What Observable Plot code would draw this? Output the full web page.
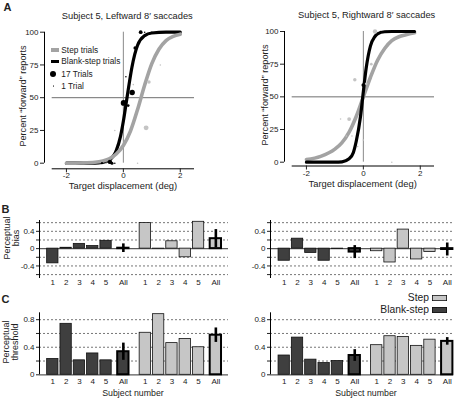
<!DOCTYPE html>
<html><head><meta charset="utf-8">
<script src="https://cdn.jsdelivr.net/npm/d3@7"></script>
<script src="https://cdn.jsdelivr.net/npm/@observablehq/plot@0.6"></script>
<style>
body{margin:0;background:#fff;}
#fig{position:relative;width:454px;height:401px;overflow:hidden;font-family:"Liberation Sans",Arial,sans-serif;color:#222;background:#fff;}
.p{position:absolute;}
.t{position:absolute;white-space:nowrap;line-height:1;}
</style></head><body><div id="fig"></div>
<script>
// ---------- Panel A data ----------
const aXTicks = [-2, 0, 2];
const aXTickLabels = ["-2", "0", "2"];
const aYTicks = [0, 25, 50, 75, 100];
const aYTickLabels = ["0", "25", "50", "75", "100"];

// Leftward: fitted curves
const leftBlankCurveX = [-2, -1, -0.75, -0.5, -0.25, -0.1, 0, 0.1, 0.2, 0.3, 0.4, 0.5, 0.75, 1, 1.5, 2];
const leftBlankCurveY = [0, 0.1, 0.6, 2.4, 9.6, 20.5, 32, 46, 60, 73, 83, 90, 97.4, 99.4, 100, 100];
const leftStepCurveX = [-2, -1.5, -1, -0.5, -0.25, 0, 0.25, 0.5, 0.75, 1, 1.25, 1.5, 1.75, 2];
const leftStepCurveY = [0, 0.2, 0.7, 3.3, 7, 13.5, 24.5, 41, 59.7, 76, 87, 93.6, 96.8, 98.5];
// Leftward: data points (displacement, % forward, trials)
const leftBlankPtX = [0.61, 0.41, 0.09, 0.01, 0.31, 0.17, -0.18, -0.47, -0.4, -0.75, -0.3, 0.75, 1.0, 1.3];
const leftBlankPtY = [100, 88, 66, 46, 54, 44, 14, 1, 0, 0, 0, 100, 100, 100];
const leftBlankPtN = [6, 4, 1, 14, 12, 3, 3, 8, 4, 2, 1, 1, 1, 1];
const leftStepPtX = [0.8, 0.9, -0.3, 1.3, 0.5, 0.35, -0.6];
const leftStepPtY = [27, 62, 25, 75, 0, 60, 0];
const leftStepPtN = [10, 5, 1, 1, 1, 1, 1];

// Rightward
const rightBlankCurveX = [-2, -1, -0.75, -0.5, -0.35, -0.25, -0.1, 0, 0.1, 0.25, 0.4, 0.5, 0.75, 1, 1.8];
const rightBlankCurveY = [0, 0, 0.3, 2.6, 7.5, 16, 35, 54, 72, 89, 96, 98.2, 99.8, 100, 100];
const rightStepCurveX = [-2, -1.5, -1, -0.75, -0.5, -0.25, 0, 0.25, 0.5, 0.75, 1, 1.25, 1.5, 1.8];
const rightStepCurveY = [2, 4.5, 10, 15, 23, 35, 50, 65, 78, 87, 93, 96, 97.5, 99];
const rightBlankPtX = [0, -1.5, -1.35, -1.2, -1.05, -0.9, -0.75, 0.6, 0.8, 1.0, 1.2, 1.5];
const rightBlankPtY = [59, 0, 0, 0, 0, 0, 0, 100, 100, 100, 100, 100];
const rightBlankPtN = [6, 1, 1, 1, 1, 1, 1, 1, 1, 1, 1, 1];
const rightStepPtX = [0.41, -0.3, -0.5, 0.28, 0.1, -0.8, -0.6, -0.4, 0, -0.2, 1.0];
const rightStepPtY = [100, 63, 33, 75, 60, 33, 20, 20, 17, 12, 0];
const rightStepPtN = [8, 5, 6, 3, 3, 1, 1, 1, 1, 1, 1];

// ---------- Panels B & C data ----------
const subjects = ["1", "2", "3", "4", "5", "All"];
const conditions = ["Blank-step", "Step"];
const biasLeftBlank = [-0.34, 0.02, 0.11, 0.06, 0.18, 0.01];
const biasLeftStep = [0.59, -0.01, 0.17, -0.2, 0.62, 0.23];
const biasLeftErr = [0.1, 0.21];
const biasRightBlank = [-0.28, 0.23, -0.10, -0.28, -0.01, -0.08];
const biasRightStep = [-0.06, -0.32, 0.44, -0.25, -0.08, -0.02];
const biasRightErr = [0.15, 0.15];
const threshLeftBlank = [0.23, 0.74, 0.21, 0.31, 0.21, 0.335];
const threshLeftStep = [0.61, 0.88, 0.46, 0.52, 0.40, 0.575];
const threshLeftErr = [0.125, 0.105];
const threshRightBlank = [0.28, 0.54, 0.22, 0.17, 0.20, 0.28];
const threshRightStep = [0.43, 0.56, 0.55, 0.42, 0.51, 0.485];
const threshRightErr = [0.085, 0.055];

const biasTicks = [-0.6, -0.4, -0.2, 0, 0.2, 0.4, 0.6];
const biasTickLabels = ["", "-0.4", "", "0", "", "0.4", ""];
const threshTicks = [0, 0.2, 0.4, 0.6, 0.8];
const threshTickLabels = ["0", "", "0.4", "", "0.8"];

// ---------- helpers ----------
const FONT = "Liberation Sans, Arial, sans-serif";
const fig = document.getElementById("fig");
function place(node, left, top) {
  const d = document.createElement("div");
  d.className = "p"; d.style.left = left + "px"; d.style.top = top + "px";
  d.appendChild(node); fig.appendChild(d); return d;
}
function txt(s, x, y, size, opt = {}) {
  const d = document.createElement("div");
  d.className = "t"; d.textContent = s;
  d.style.fontSize = size + "px";
  d.style.left = x + "px"; d.style.top = y + "px";
  if (opt.bold) d.style.fontWeight = "bold";
  const ax = opt.anchor === "start" ? "0" : opt.anchor === "end" ? "-100%" : "-50%";
  d.style.transform = `translate(${ax},-50%)` + (opt.rotate ? ` rotate(${opt.rotate}deg)` : "");
  fig.appendChild(d); return d;
}
const zip = (xs, ys, ns) => xs.map((x, i) => ({x, y: ys[i], n: ns ? ns[i] : 1}));
const fmt = (ticks, labels) => { const m = new Map(ticks.map((t, i) => [t, labels[i]])); return d => m.get(d); };

const GRAYLINE = "#a3a3a3", GRAYDOT = "#c4c4c4";

function panelA(cfg) {
  const blankCurve = zip(cfg.bcx, cfg.bcy), stepCurve = zip(cfg.scx, cfg.scy);
  const blankPts = zip(cfg.bpx, cfg.bpy, cfg.bpn), stepPts = zip(cfg.spx, cfg.spy, cfg.spn);
  const blackLine = Plot.line(blankCurve, {x: "x", y: "y", stroke: "#000", strokeWidth: 3.2, curve: "monotone-x"});
  const grayLine = Plot.line(stepCurve, {x: "x", y: "y", stroke: GRAYLINE, strokeWidth: 3.6, curve: "monotone-x"});
  const svg = Plot.plot({
    width: cfg.width, height: 200,
    marginLeft: cfg.ml, marginRight: cfg.mr, marginTop: cfg.mt, marginBottom: cfg.mb,
    style: {fontFamily: FONT, fontSize: "8px", color: "#222", background: "transparent"},
    x: {domain: [-2.5, 2.5], insetLeft: 7.7},
    y: {domain: [0, 100], insetBottom: cfg.ib},
    r: {domain: [0, 17], range: [0, 3.2]},
    marks: [
      Plot.ruleY([50], {x1: -2.5, x2: 2.5, stroke: "#6e6e6e", strokeWidth: 1}),
      Plot.ruleX([0], {y1: 0, y2: 100, stroke: "#8a8a8a", strokeWidth: 1}),
      ...(cfg.grayOnTop ? [blackLine, grayLine] : [grayLine, blackLine]),
      Plot.dot(stepPts, {x: "x", y: "y", r: "n", fill: GRAYDOT, stroke: "none"}),
      Plot.dot(blankPts, {x: "x", y: "y", r: "n", fill: "#000", stroke: "none"}),
      Plot.ruleX([-2.5], {y1: 0, y2: 100, dx: -7.7, stroke: "#000"}),
      Plot.ruleY([0], {x1: -2.5, x2: 2.5, dy: cfg.ib, stroke: "#000"}),
      Plot.axisY({ticks: aYTicks, tickFormat: fmt(aYTicks, aYTickLabels), tickSize: 4, tickPadding: 2, label: null, fontSize: 8}),
      Plot.axisX({ticks: aXTicks, tickFormat: fmt(aXTicks, aXTickLabels), tickSize: 4, tickPadding: 0, label: null, fontSize: 8})
    ]
  });
  place(svg, cfg.left, 0);
}

panelA({left: 0, width: 227, ml: 44, mr: 33, mt: 31.7, mb: 31.7, ib: 5.6, grayOnTop: true,
  bcx: leftBlankCurveX, bcy: leftBlankCurveY, scx: leftStepCurveX, scy: leftStepCurveY,
  bpx: leftBlankPtX, bpy: leftBlankPtY, bpn: leftBlankPtN, spx: leftStepPtX, spy: leftStepPtY, spn: leftStepPtN});
panelA({left: 230, width: 224, ml: 54, mr: 20, mt: 31, mb: 34.5, ib: 3.8, grayOnTop: false,
  bcx: rightBlankCurveX, bcy: rightBlankCurveY, scx: rightStepCurveX, scy: rightStepCurveY,
  bpx: rightBlankPtX, bpy: rightBlankPtY, bpn: rightBlankPtN, spx: rightStepPtX, spy: rightStepPtY, spn: rightStepPtN});

// ---------- bar panels ----------
const groupStride = 6.95, allGap = 0.3, halfW = 0.425;
function barPanel(cfg) {
  const rows = [];
  [[cfg.blank, cfg.err[0]], [cfg.step, cfg.err[1]]].forEach(([vals, err], g) => {
    subjects.forEach((s, i) => {
      const pos = g * groupStride + i + (s === "All" ? allGap : 0);
      rows.push({cond: conditions[g], subject: s, pos, value: vals[i], err: s === "All" ? err : null});
    });
  });
  const posLabel = new Map(rows.map(d => [d.pos, d.subject]));
  const single = rows.filter(d => d.subject !== "All"), all = rows.filter(d => d.subject === "All");
  const svg = Plot.plot({
    width: cfg.width, height: cfg.height,
    marginLeft: cfg.ml, marginRight: cfg.mr, marginTop: cfg.mt, marginBottom: cfg.mb,
    style: {fontFamily: FONT, fontSize: "8px", color: "#222", background: "transparent"},
    x: {domain: cfg.xdom},
    y: {domain: cfg.ydom},
    color: {domain: conditions, range: ["#3f3f3f", "#c6c6c6"]},
    marks: [
      Plot.ruleY(cfg.grid, {stroke: "#666", strokeDasharray: "2,2", strokeWidth: 0.9}),
      Plot.ruleY([0], {stroke: "#5a5a5a", strokeWidth: 1.2}),
      Plot.rectY(single, {x1: d => d.pos - halfW, x2: d => d.pos + halfW, y1: 0, y2: "value", fill: "cond", stroke: "#111", strokeWidth: 0.8}),
      Plot.rectY(all, {x1: d => d.pos - halfW, x2: d => d.pos + halfW, y1: 0, y2: "value", fill: "cond", stroke: "#000", strokeWidth: 2}),
      Plot.ruleX(all, {x: "pos", y1: d => d.value - d.err, y2: d => d.value + d.err, stroke: "#000", strokeWidth: 2.6}),
      Plot.ruleX([cfg.xdom[0]], {stroke: "#000", strokeWidth: 1}),
      Plot.axisY({ticks: cfg.ticks, tickFormat: fmt(cfg.ticks, cfg.tickLabels), tickSize: 3, tickPadding: 2, label: null, fontSize: 8}),
      Plot.axisX({ticks: rows.map(d => d.pos), tickFormat: d => posLabel.get(d), tickSize: 0, tickPadding: cfg.xpad, label: null, fontSize: 8})
    ]
  });
  place(svg, cfg.left, cfg.top);
}

const biasGrid = [-0.6, -0.4, -0.2, 0.2, 0.4, 0.6];
const threshGrid = [0.2, 0.4, 0.6, 0.8];
barPanel({left: 0, top: 205, width: 230, height: 88, ml: 39, mr: 2, mt: 15, mb: 15, xpad: 1,
  xdom: [-1, 13.2], ydom: [-0.69, 0.65], blank: biasLeftBlank, step: biasLeftStep, err: biasLeftErr,
  grid: biasGrid, ticks: biasTicks, tickLabels: biasTickLabels});
barPanel({left: 225, top: 205, width: 229, height: 88, ml: 45, mr: 1, mt: 15, mb: 15, xpad: 1,
  xdom: [-1.03, 12.72], ydom: [-0.69, 0.65], blank: biasRightBlank, step: biasRightStep, err: biasRightErr,
  grid: biasGrid, ticks: biasTicks, tickLabels: biasTickLabels});
barPanel({left: 0, top: 295, width: 230, height: 106, ml: 39, mr: 2, mt: 17.3, mb: 26.7, xpad: 4,
  xdom: [-1, 13.2], ydom: [0, 0.9], blank: threshLeftBlank, step: threshLeftStep, err: threshLeftErr,
  grid: threshGrid, ticks: threshTicks, tickLabels: threshTickLabels});
barPanel({left: 225, top: 295, width: 229, height: 106, ml: 45, mr: 1, mt: 17.3, mb: 26.7, xpad: 4,
  xdom: [-1.03, 12.72], ydom: [0, 0.9], blank: threshRightBlank, step: threshRightStep, err: threshRightErr,
  grid: threshGrid, ticks: threshTicks, tickLabels: threshTickLabels});

// ---------- text ----------
txt("A", 7.5, 7, 11, {bold: true});
txt("B", 5.5, 209, 11, {bold: true});
txt("C", 5.5, 299, 11, {bold: true});
txt("Subject 5, Leftward 8′ saccades", 127.3, 17.3, 9.3);
txt("Subject 5, Rightward 8′ saccades", 366.7, 15.7, 9.3);
txt("Target displacement (deg)", 123, 186, 9.4);
txt("Target displacement (deg)", 362.7, 184, 9.4);
txt("Percent “forward” reports", 24, 96, 9.1, {rotate: -90});
txt("Percent “forward” reports", 265.5, 95, 9.1, {rotate: -90});
txt("Perceptual", 6.5, 238, 9, {rotate: -90});
txt("bias", 15.5, 238, 9, {rotate: -90});
txt("Perceptual", 5.5, 342, 9, {rotate: -90});
txt("threshold", 14.5, 342, 9, {rotate: -90});
txt("Subject number", 133, 393.3, 8.8);
txt("Subject number", 366, 393.3, 8.8);

// legend swatches
function swatch(x, y, w, h, color, opt = {}) {
  const d = document.createElement("div");
  d.className = "p";
  Object.assign(d.style, {left: x + "px", top: y + "px", width: w + "px", height: h + "px", background: color});
  if (opt.round) d.style.borderRadius = "50%";
  if (opt.outline) d.style.boxShadow = "inset 0 0 0 0.8px #111";
  fig.appendChild(d);
}
// legend A
swatch(50.7, 48.3, 8.6, 3.4, GRAYLINE);
swatch(50.7, 59.6, 8.6, 3.4, "#000");
swatch(50.3, 70.7, 6, 6, "#000", {round: true});
swatch(52.6, 85.2, 1.5, 1.5, "#666", {round: true});
txt("Step trials", 61.3, 50, 8.3, {anchor: "start"});
txt("Blank-step trials", 61.3, 61.3, 8.3, {anchor: "start"});
txt("17 Trials", 61.3, 73.7, 8.3, {anchor: "start"});
txt("1 Trial", 61.3, 86, 8.3, {anchor: "start"});

// legend C
txt("Step", 429, 297.7, 10.3, {anchor: "end"});
txt("Blank-step", 429, 310, 10.3, {anchor: "end"});
swatch(432.3, 294.8, 14.4, 5.8, "#c6c6c6", {outline: true});
swatch(432.3, 307, 14.4, 5.8, "#3f3f3f", {outline: true});
</script></body></html>
